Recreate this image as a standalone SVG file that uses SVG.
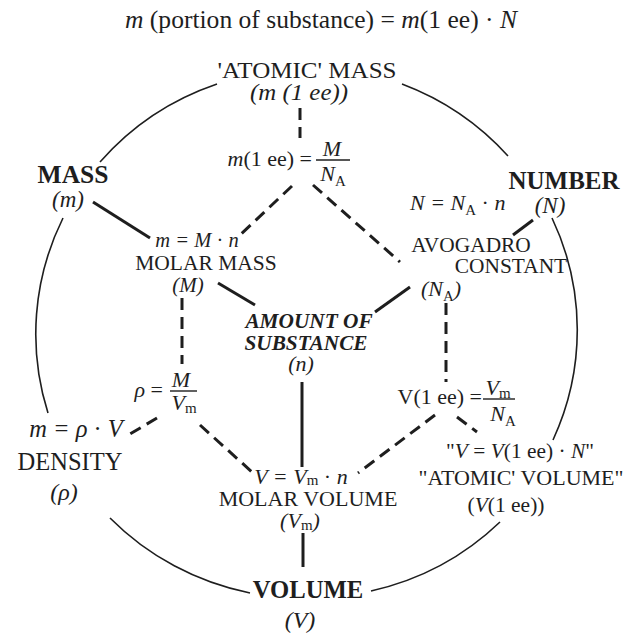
<svg xmlns="http://www.w3.org/2000/svg" width="624" height="633" viewBox="0 0 624 633">
<style>
.t{font-family:"Liberation Serif","Times New Roman",serif;font-size:22px;fill:#1e1e1e}
.it{font-style:italic}
.up{font-style:normal}
.b{font-weight:bold}
.c{text-anchor:middle}
.e{text-anchor:end}
.sub{font-size:15px;font-style:normal}
.ln{stroke:#1e1e1e;stroke-width:3;fill:none}
.ds{stroke-dasharray:12 7}
.arc{stroke:#1e1e1e;stroke-width:1.6;fill:none}
.bar{stroke:#1e1e1e;stroke-width:1.4}
</style>
<rect width="624" height="633" fill="#fff"/>
<g id="connectors">
  <path class="arc" d="M100,162 A271.5,266 0 0 1 217,84"/>
  <path class="arc" d="M402,84 A271.5,266 0 0 1 508,156"/>
  <path class="arc" d="M552,218 A271.5,266 0 0 1 553,440"/>
  <path class="arc" d="M500,522 A271.5,266 0 0 1 371,591"/>
  <path class="arc" d="M250,593 A271.5,266 0 0 1 110,518"/>
  <path class="arc" d="M48,413 A271.5,266 0 0 1 63,218"/>
  <path class="ln" d="M93,202 L150,238"/>
  <path class="ln" d="M218,283 L255,305"/>
  <path class="ln" d="M410,287 L375,312"/>
  <path class="ln" d="M513,235 L533,220"/>
  <path class="ln" d="M302,382 L302,467"/>
  <path class="ln" d="M303,533 L303,567"/>
  <path class="ln ds" d="M300,108 L300,138"/>
  <path class="ln ds" d="M292,186 L240,235"/>
  <path class="ln ds" d="M313,185 L400,262"/>
  <path class="ln ds" d="M182,298 L182,364"/>
  <path class="ln ds" d="M157,418 L125,437"/>
  <path class="ln ds" d="M200,425 L252,472"/>
  <path class="ln ds" d="M446,303 L446,382"/>
  <path class="ln ds" d="M435,415 L358,473"/>
  <path class="ln ds" d="M457,417 L477,432"/>
</g>
<g id="title">
  <text class="t c" x="321" y="28" style="font-size:25px" textLength="392" lengthAdjust="spacingAndGlyphs"><tspan class="it">m</tspan> (portion of substance) = <tspan class="it">m</tspan>(1 ee) · <tspan class="it">N</tspan></text>
</g>
<g id="atomic-mass">
  <text class="t c" x="307" y="78" style="font-size:23.5px" textLength="179" lengthAdjust="spacingAndGlyphs">'ATOMIC' MASS</text>
  <text class="t c it" x="299" y="100" style="font-size:23px" textLength="98" lengthAdjust="spacingAndGlyphs">(m (1 ee))</text>
</g>
<g id="eq-m1ee">
  <text class="t e" x="312" y="166"><tspan class="it">m</tspan>(1 ee) =</text>
  <text class="t c it" x="332" y="156">M</text>
  <line class="bar" x1="316" y1="160" x2="350" y2="160"/>
  <text class="t c it" x="333" y="181">N<tspan class="sub" dy="5">A</tspan></text>
</g>
<g id="mass">
  <text class="t c b" x="73" y="183" style="font-size:25.5px">MASS</text>
  <text class="t c it" x="68" y="207" style="font-size:23px">(m)</text>
</g>
<g id="molar-mass">
  <text class="t c it" x="197" y="247" style="font-size:20.5px">m = M <tspan class="up">·</tspan> n</text>
  <text class="t c" x="206" y="270" style="font-size:21.5px">MOLAR MASS</text>
  <text class="t c it" x="188" y="292" style="font-size:21px">(M)</text>
</g>
<g id="amount">
  <text class="t c it b" x="309" y="328" style="font-size:21.3px">AMOUNT OF</text>
  <text class="t c it b" x="306" y="350" style="font-size:21.3px">SUBSTANCE</text>
  <text class="t c it" x="301" y="371">(n)</text>
</g>
<g id="number">
  <text class="t c b" x="564" y="189" style="font-size:25px">NUMBER</text>
  <text class="t c it" x="550" y="213" style="font-size:23px">(N)</text>
</g>
<g id="avogadro">
  <text class="t it" x="410" y="210">N = N<tspan class="sub" dy="5">A</tspan><tspan class="up" dy="-5"> · </tspan>n</text>
  <text class="t c" x="471" y="252" style="font-size:21.4px">AVOGADRO</text>
  <text class="t c" x="511" y="273" style="font-size:21.4px">CONSTANT</text>
  <text class="t c it" x="441" y="296">(N<tspan class="sub" dy="5">A</tspan><tspan dy="-5">)</tspan></text>
</g>
<g id="eq-rho">
  <text class="t e it" x="163" y="397">ρ <tspan class="up">=</tspan></text>
  <text class="t c it" x="181" y="387">M</text>
  <line class="bar" x1="170" y1="391" x2="197" y2="391"/>
  <text class="t c it" x="184" y="410">V<tspan class="sub" dy="3">m</tspan></text>
</g>
<g id="density">
  <text class="t c it" x="76" y="437" style="font-size:24.5px">m = ρ <tspan class="up">·</tspan> V</text>
  <text class="t c" x="70" y="470" style="font-size:24.5px">DENSITY</text>
  <text class="t c it" x="64" y="500" style="font-size:24px">(ρ)</text>
</g>
<g id="molar-volume">
  <text class="t c it" x="301" y="484">V = V<tspan class="sub" dy="1">m</tspan><tspan class="up" dy="-1"> · </tspan>n</text>
  <text class="t c" x="308" y="506">MOLAR VOLUME</text>
  <text class="t c it" x="300" y="528">(V<tspan class="sub" dy="2">m</tspan><tspan dy="-2">)</tspan></text>
</g>
<g id="volume">
  <text class="t c b" x="308" y="598" style="font-size:24.7px">VOLUME</text>
  <text class="t c it" x="300" y="628" style="font-size:24px">(V)</text>
</g>
<g id="eq-v1ee">
  <text class="t e" x="482" y="404">V(1 ee) =</text>
  <text class="t c it" x="498" y="395">V<tspan class="sub" dy="3">m</tspan></text>
  <line class="bar" x1="483" y1="399" x2="515" y2="399"/>
  <text class="t c it" x="503" y="421">N<tspan class="sub" dy="5">A</tspan></text>
</g>
<g id="atomic-volume">
  <text class="t c" x="520" y="458" style="font-size:21.4px">"<tspan class="it">V</tspan> = <tspan class="it">V</tspan>(1 ee) · <tspan class="it">N</tspan>"</text>
  <text class="t c" x="521" y="485">"ATOMIC' VOLUME"</text>
  <text class="t c" x="506" y="512" style="font-size:21.5px">(<tspan class="it">V</tspan>(1 ee))</text>
</g>
</svg>
